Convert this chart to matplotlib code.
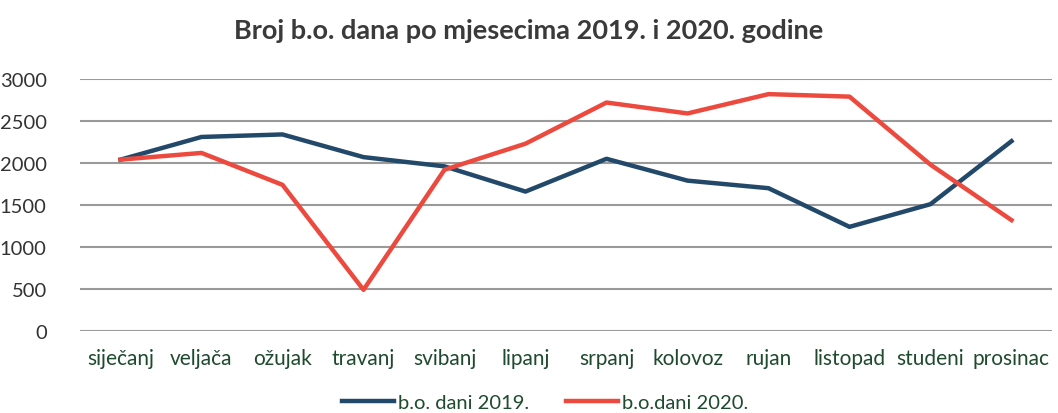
import matplotlib
matplotlib.use("Agg")
import matplotlib.pyplot as plt
import numpy as np

months = ["siječanj", "veljača", "ožujak", "travanj", "svibanj", "lipanj",
          "srpanj", "kolovoz", "rujan", "listopad", "studeni", "prosinac"]
dani_2019 = [2040, 2310, 2340, 2070, 1960, 1660, 2050, 1790, 1700, 1240, 1510, 2260]
dani_2020 = [2040, 2120, 1740, 490, 1920, 2230, 2720, 2590, 2820, 2790, 1980, 1320]
yticks = [0, 500, 1000, 1500, 2000, 2500, 3000]

plt.rcParams['font.family'] = ['Lato', 'DejaVu Sans']

fig = plt.figure(figsize=(10.58, 4.14), dpi=100)
ax = fig.add_axes([80/1058, 1-332/414, (1052-80)/1058, (332-80)/414])

x = np.arange(len(months))
l1, = ax.plot(x, dani_2019, color="#23496a", lw=3.2, solid_joinstyle="round", label="b.o. dani 2019.")
l2, = ax.plot(x, dani_2020, color="#ec4a3e", lw=3.2, solid_joinstyle="round", label="b.o.dani 2020.")

ax.set_xlim(-0.5, len(months) - 0.5)
ax.set_ylim(0, 3000)
ax.set_yticks(yticks)
ax.set_yticklabels([str(v) for v in yticks], fontsize=14.5, color="#333333")
ax.set_xticks(x)
ax.set_xticklabels(months, fontsize=15, color="#1e4a2e")
ax.tick_params(axis="both", length=0)
ax.tick_params(axis="y", pad=24)
ax.tick_params(axis="x", pad=12)
ax.grid(axis="y", color="#9a9a9a", lw=1.5)
ax.set_axisbelow(True)
for s in ax.spines.values():
    s.set_visible(False)

fig.text(0.5, 1-31/414, "Broj b.o. dana po mjesecima 2019. i 2020. godine",
         ha="center", va="center", fontsize=19.5, fontweight="bold", color="#3a3a3a")

fig.legend(handles=[l1, l2], loc="center", bbox_to_anchor=(545/1058, 1-403/414),
           ncol=2, frameon=False, fontsize=14.5, handlelength=2.6, columnspacing=1.8,
           handletextpad=0.2, labelcolor="#1e4a2e")

fig.savefig("out.png", dpi=100)
